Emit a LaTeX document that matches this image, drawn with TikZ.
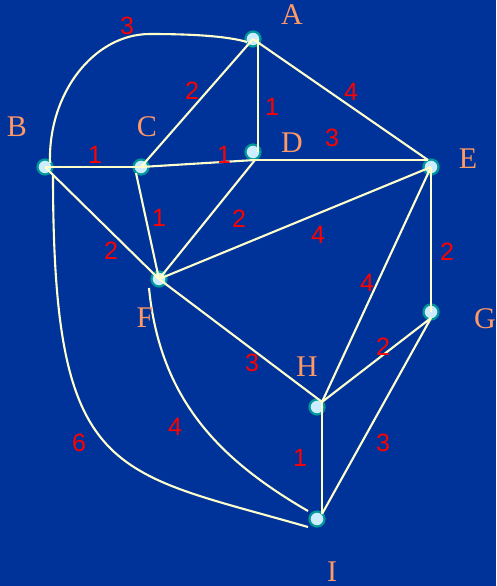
\documentclass[tikz,border=0pt]{standalone}
\usepackage{fontspec}
\setmainfont{Liberation Serif}
\newfontfamily\numfont{Liberation Sans}
\definecolor{bgblue}{HTML}{003399}
\definecolor{linecol}{HTML}{FFFFCC}
\definecolor{nodefill}{HTML}{CCECFF}
\definecolor{nodeborder}{HTML}{009999}
\definecolor{lettercol}{HTML}{FF9966}
\definecolor{wtcol}{HTML}{FF0000}
\begin{document}
\begin{tikzpicture}[x=1pt,y=-1pt,
  vertex/.style={circle, draw=nodeborder, fill=nodefill, line width=2.2pt, minimum size=15pt, inner sep=0pt},
  vname/.style={text=lettercol, font=\fontsize{30}{30}\selectfont, inner sep=0pt},
  wt/.style={text=wtcol, font=\numfont\fontsize{25}{25}\selectfont, inner sep=0pt},
  edge/.style={draw=linecol, line width=2.1pt}]
\fill[bgblue] (0,0) rectangle (496,586);
\useasboundingbox (0,0) rectangle (496,586);

% vertices
\node[vertex] (A) at (253,39) {};
\node[vertex] (B) at (45,167) {};
\node[vertex] (C) at (141,167) {};
\node[vertex] (D) at (253,152) {};
\node[vertex] (E) at (431,167) {};
\node[vertex] (F) at (159,279) {};
\node[vertex] (G) at (431,312) {};
\node[vertex] (H) at (317,407) {};
\node[vertex] (I) at (317,519) {};

% ports
\coordinate (Dp) at ([shift={(2pt,-8pt)}]D.center);
\coordinate (Ep) at ([shift={(-3pt,7pt)}]E.center);
\coordinate (Hp) at ([shift={(5pt,5pt)}]H.center);
\coordinate (Ip) at ([shift={(5pt,5pt)}]I.center);
\coordinate (Gp) at ([shift={(0pt,-6pt)}]G.center);

% edges
\draw[edge] ([shift={(5pt,4pt)}]B.center) .. controls (48,93) and (94,34) .. (150,34)
  .. controls (200,34) and (230,37) .. ([shift={(-6pt,-3pt)}]A.center);
\draw[edge] (A.center) -- (C.center);
\draw[edge] ([xshift=5pt]A.center) -- ([xshift=5pt]D.center);
\draw[edge] (A.center) -- (Ep);
\draw[edge] (B.center) -- (C.center);
\draw[edge] (C.center) -- (Dp);
\draw[edge] (Dp) -- (Ep);
\draw[edge] (B.center) -- (F.center);
\draw[edge] ([shift={(-5pt,-6pt)}]C.center) -- (F.center);
\draw[edge] (Dp) -- (F.center);
\draw[edge] (F.center) -- (E.center);
\draw[edge] (E.center) -- (G.center);
\draw[edge] (E.center) -- (Hp);
\draw[edge] (F.center) -- (Hp);
\draw[edge] (Hp) -- (Gp);
\draw[edge] (Hp) -- (Ip);
\draw[edge] (Gp) -- (Ip);
\draw[edge] ([shift={(-10pt,-9pt)}]F.center) .. controls (160,400) and (220,460) .. ([shift={(-9pt,8pt)}]I.center);
\draw[edge] ([shift={(8pt,-8pt)}]B.center) .. controls (53,480) and (110,470) .. ([shift={(-9pt,-8pt)}]I.center);

% vertex names
\node[vname] (lA) at (292,15) {A};
\node[vname] (lB) at (17,127) {B};
\node[vname] (lC) at (147,127) {C};
\node[vname] (lD) at (292,143) {D};
\node[vname] (lE) at (468,159) {E};
\node[vname] (lF) at (145,318) {F};
\node[vname] (lG) at (485,319) {G};
\node[vname] (lH) at (307,367) {H};
\node[vname] (lI) at (332,572) {I};

% weights
\node[wt] (wAB) at (127,26) {3};
\node[wt] (wAC) at (192,91) {2};
\node[wt] (wAD) at (272,107) {1};
\node[wt] (wAE) at (351,92) {4};
\node[wt] (wBC) at (95,155) {1};
\node[wt] (wCD) at (224,155) {1};
\node[wt] (wDE) at (332,138) {3};
\node[wt] (wCF) at (159,218) {1};
\node[wt] (wDF) at (239,219) {2};
\node[wt] (wBF) at (111,251) {2};
\node[wt] (wFE) at (318,235) {4};
\node[wt] (wEG) at (447,252) {2};
\node[wt] (wEH) at (367,283) {4};
\node[wt] (wFH) at (252,363) {3};
\node[wt] (wHG) at (383,347) {2};
\node[wt] (wGI) at (383,443) {3};
\node[wt] (wHI) at (300,458) {1};
\node[wt] (wFI) at (175,427) {4};
\node[wt] (wBI) at (79,443) {6};
\end{tikzpicture}
\end{document}
